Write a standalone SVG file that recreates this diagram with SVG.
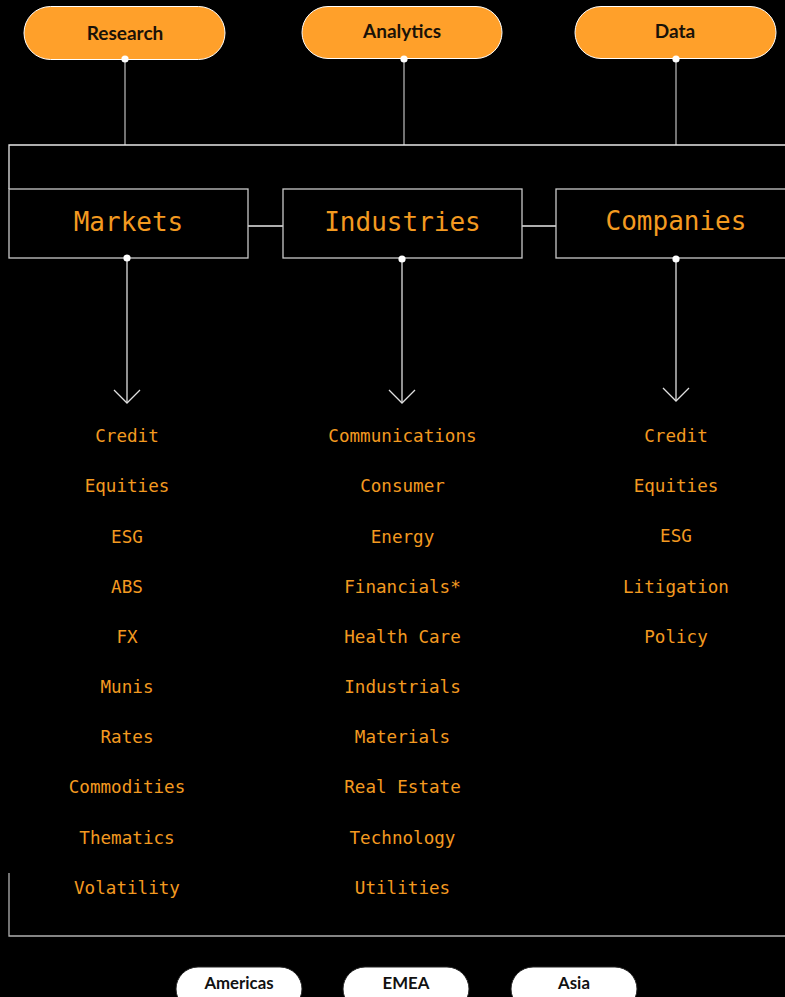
<svg xmlns="http://www.w3.org/2000/svg" width="785" height="997" viewBox="0 0 785 997">
<defs>
<style>
.pill{fill:#FFA02A;stroke:#ffffff;stroke-width:1}
.pilltxt{font-family:Lato,"Noto Sans",sans-serif;font-weight:bold;font-size:19px;fill:#1a1208;text-anchor:middle}
.box{fill:#000;stroke:#c8c8c8;stroke-width:1.3}
.boxtxt{font-family:"DejaVu Sans Mono",monospace;font-size:26px;fill:#F39A20;text-anchor:middle}
.item{font-family:"DejaVu Sans Mono",monospace;font-size:17.6px;fill:#F39A20;text-anchor:middle}
.ln{stroke:#b0b0b0;stroke-width:1.3;fill:none}
.wl{stroke:#e8e8e8;stroke-width:1.3;fill:none}
.ar{stroke:#e0e0e0;stroke-width:1.3;fill:none}
.dot{fill:#ffffff}
.reg{fill:#ffffff;stroke:#222;stroke-width:1}
.regtxt{font-family:Lato,"Noto Sans",sans-serif;font-weight:bold;font-size:16.8px;fill:#111;text-anchor:middle}
</style>
</defs>
<rect width="785" height="997" fill="#000"/>
<g id="connectors">
<path class="ln" d="M125,59 V145"/>
<path class="ln" d="M404,59 V145"/>
<path class="ln" d="M676,59 V145"/>
<path class="wl" d="M9,189 V145 H785"/>
<path class="ln" d="M9,873 V936 H785"/>
<path class="wl" d="M248,226 H283"/>
<path class="wl" d="M522,226 H556"/>
<path class="ar" d="M127,258 V403"/>
<path class="ar" d="M114,390 L127,403 L140,390"/>
<path class="ar" d="M402,259 V403"/>
<path class="ar" d="M389,390 L402,403 L415,390"/>
<path class="ar" d="M676,259 V401"/>
<path class="ar" d="M663,388 L676,401 L689,388"/>
</g>
<g id="research"><rect class="pill" x="24" y="6.5" width="201" height="53" rx="26.5"/><text class="pilltxt" x="125" y="39.5">Research</text></g>
<g id="analytics"><rect class="pill" x="302" y="6.5" width="200" height="52" rx="26"/><text class="pilltxt" x="402" y="37.5">Analytics</text></g>
<g id="data"><rect class="pill" x="575" y="6.5" width="201" height="52" rx="26"/><text class="pilltxt" x="675" y="37.5">Data</text></g>
<g id="markets"><rect class="box" x="9" y="189" width="239" height="69"/><text class="boxtxt" x="128.5" y="231">Markets</text></g>
<g id="industries"><rect class="box" x="283" y="189" width="239" height="69"/><text class="boxtxt" x="402.5" y="231">Industries</text></g>
<g id="companies"><rect class="box" x="556" y="189" width="240" height="69"/><text class="boxtxt" x="676" y="230">Companies</text></g>
<g id="dots">
<circle class="dot" cx="125" cy="59" r="3.6"/><circle class="dot" cx="404" cy="59" r="3.6"/><circle class="dot" cx="676" cy="59" r="3.6"/>
<circle class="dot" cx="127" cy="258" r="3.6"/><circle class="dot" cx="402" cy="259" r="3.6"/><circle class="dot" cx="676" cy="259" r="3.6"/>
</g>
<g id="markets-list">
<text class="item" x="127" y="442">Credit</text>
<text class="item" x="127" y="492">Equities</text>
<text class="item" x="127" y="543">ESG</text>
<text class="item" x="127" y="593">ABS</text>
<text class="item" x="127" y="643">FX</text>
<text class="item" x="127" y="693">Munis</text>
<text class="item" x="127" y="743">Rates</text>
<text class="item" x="127" y="793">Commodities</text>
<text class="item" x="127" y="844">Thematics</text>
<text class="item" x="127" y="894">Volatility</text>
</g>
<g id="industries-list">
<text class="item" x="402.5" y="442">Communications</text>
<text class="item" x="402.5" y="492">Consumer</text>
<text class="item" x="402.5" y="543">Energy</text>
<text class="item" x="402.5" y="593">Financials*</text>
<text class="item" x="402.5" y="643">Health Care</text>
<text class="item" x="402.5" y="693">Industrials</text>
<text class="item" x="402.5" y="743">Materials</text>
<text class="item" x="402.5" y="793">Real Estate</text>
<text class="item" x="402.5" y="844">Technology</text>
<text class="item" x="402.5" y="894">Utilities</text>
</g>
<g id="companies-list">
<text class="item" x="676" y="442">Credit</text>
<text class="item" x="676" y="492">Equities</text>
<text class="item" x="676" y="542">ESG</text>
<text class="item" x="676" y="593">Litigation</text>
<text class="item" x="676" y="643">Policy</text>
</g>
<g id="americas"><rect class="reg" x="176" y="967" width="126" height="44" rx="22"/><text class="regtxt" x="239" y="988.5">Americas</text></g>
<g id="emea"><rect class="reg" x="343" y="967" width="126" height="44" rx="22"/><text class="regtxt" x="406" y="988.5">EMEA</text></g>
<g id="asia"><rect class="reg" x="511" y="967" width="126" height="44" rx="22"/><text class="regtxt" x="574" y="988.5">Asia</text></g>
</svg>
